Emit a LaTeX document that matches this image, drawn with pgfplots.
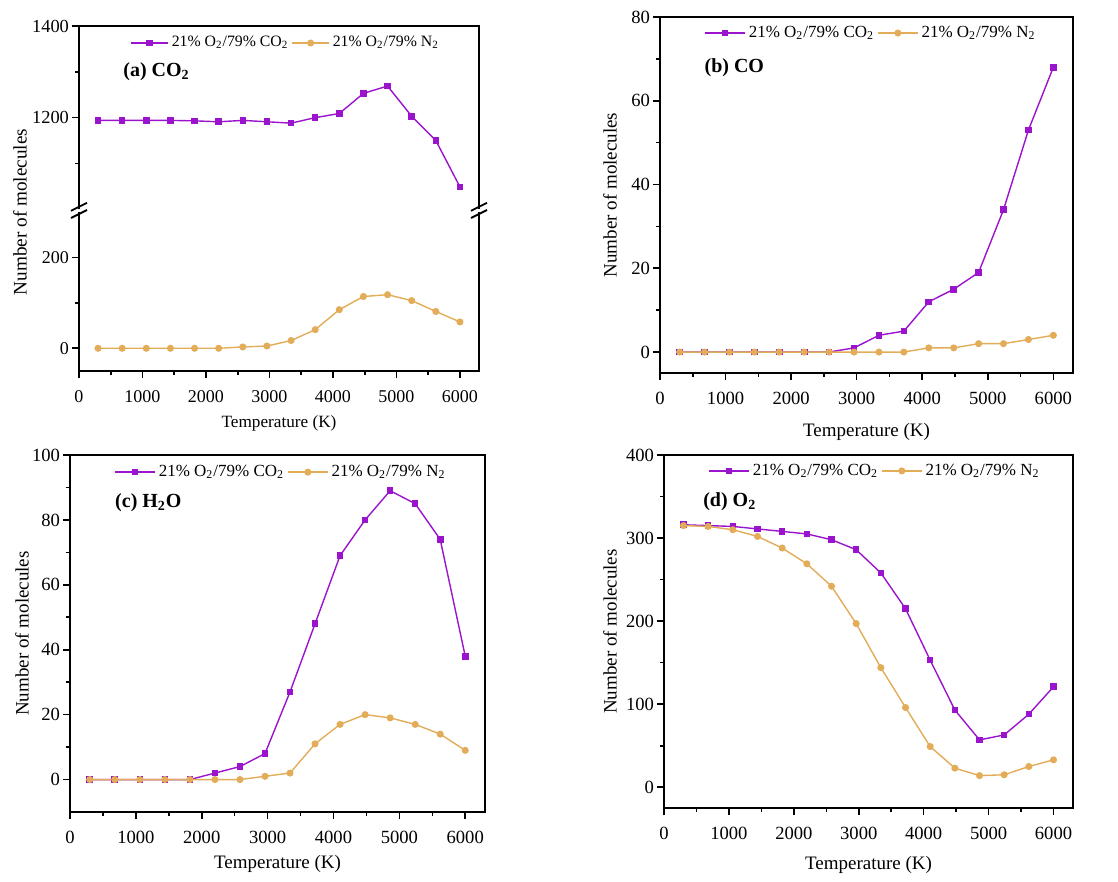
\documentclass[border=0pt]{standalone}
\usepackage{fontspec}
\setmainfont{Liberation Serif}
\usepackage{pgfplots}
\pgfplotsset{compat=1.18}

\definecolor{cpur}{RGB}{155,20,205}
\definecolor{corg}{RGB}{226,172,88}

\tikzset{tag/.style={anchor=west, inner sep=0pt, font=\fontsize{10}{12}\selectfont\bfseries}}

\pgfplotsset{
  panel/.style={
    scale only axis, anchor=north west, clip=false,
    xmin=0, xmax=6300,
    xtick={0,1000,...,6000}, minor xtick={500,1500,...,5500},
    tick align=outside, tick pos=left,
    axis line style={line width=1pt},
    major tick length=3.5pt, minor tick length=2pt,
    every tick/.style={black, line width=0.8pt},
    tick label style={font=\fontsize{9.3}{11}\selectfont},
    xticklabel style={yshift=-2.5pt},
    yticklabel style={xshift=2pt},
    label style={font=\fontsize{9.5}{11}\selectfont},
    /pgf/number format/assume math mode=true,
    /pgf/number format/1000 sep={},
    legend columns=2,
    legend style={draw=none, fill=none, inner sep=0pt, column sep=0pt,
      font=\fontsize{8.5}{10}\selectfont, anchor=west,
      nodes={inner xsep=1.5pt, inner ysep=1pt}},
    legend image code/.code={\draw[mark repeat=2,mark phase=2,##1]
      plot coordinates {(0pt,0pt) (10pt,0pt) (20pt,0pt)};},
  },
  pur/.style={color=cpur, line width=0.7pt, mark=square*, mark size=1.3pt, mark options={solid}},
  org/.style={color=corg, line width=0.7pt, mark=*, mark size=1.4pt, mark options={solid}},
}

\newcommand{\legA}{21\% O\textsubscript{2}/79\% CO\textsubscript{2}}
\newcommand{\legB}{21\% O\textsubscript{2}/79\% N\textsubscript{2}}
\newcommand{\ylab}[1]{\node[rotate=90, font=\fontsize{9.5}{11}\selectfont]
  at ([xshift=-#1]rel axis cs:0,0.5) {Number of molecules};}

\begin{document}
\begin{tikzpicture}
\path[use as bounding box] (0,0) rectangle (559pt,-441pt);

% ---------- (a) CO2, broken y axis: upper part ----------
\begin{axis}[panel, at={(39.5pt,-13pt)}, width=200pt, height=91.65pt,
  axis line style={draw=none},
  xtick=\empty, minor xtick={},
  ymin=1000, ymax=1400, ytick={1200,1400}, minor ytick={1100,1300},
  tick label style={font=\fontsize{9.2}{11}\selectfont},
  legend style={at={(rel axis cs:0.1275,0.907)}, font=\fontsize{7.9}{9.5}\selectfont},
  legend image code/.code={\draw[mark repeat=2,mark phase=2,#1]
      plot coordinates {(0pt,0pt) (9.25pt,0pt) (18.5pt,0pt)};}]
\draw[line width=1pt] (rel axis cs:0,0) -- (rel axis cs:0,1)
  -- (rel axis cs:1,1) -- (rel axis cs:1,0);
\addplot[pur] coordinates {
 (300,1194) (680,1194) (1060,1194) (1440,1194) (1820,1193) (2200,1191)
 (2580,1194) (2960,1191) (3340,1188) (3720,1200) (4100,1209) (4480,1253)
 (4860,1269) (5240,1203) (5620,1150) (6000,1049)};
\addlegendentry{\legA}
\addlegendimage{org}
\addlegendentry{\legB}
\node[tag] at (rel axis cs:0.11,0.749) {(a) CO\textsubscript{2}};
\end{axis}

% ---------- (a) CO2, lower part ----------
\begin{axis}[panel, at={(39.5pt,-106pt)}, width=200pt, height=79.5pt,
  axis line style={draw=none},
  ymin=-50, ymax=300, ytick={0,200}, minor ytick={100},
  tick label style={font=\fontsize{9}{11}\selectfont},
  xlabel={Temperature (K)}, xlabel style={font=\fontsize{8.6}{10}\selectfont}]
\draw[line width=1pt] (rel axis cs:0,1) -- (rel axis cs:0,0)
  -- (rel axis cs:1,0) -- (rel axis cs:1,1);
\addplot[org] coordinates {
 (300,0) (680,0) (1060,0) (1440,0) (1820,0) (2200,0)
 (2580,3) (2960,5) (3340,17) (3720,41) (4100,85) (4480,114)
 (4860,118) (5240,105) (5620,81) (6000,58)};
\end{axis}

% break marks on both spines of panel (a)
\foreach \bx in {39.5pt,239.5pt}{
  \draw[line width=0.9pt] ([xshift=\bx, yshift=-103.4pt]-4pt,-2pt) -- ++(8pt,4pt);
  \draw[line width=0.9pt] ([xshift=\bx, yshift=-107pt]-4pt,-2pt) -- ++(8pt,4pt);
}
\node[rotate=90, font=\fontsize{9.6}{11}\selectfont] at (10pt,-106pt) {Number of molecules};

% ---------- (b) CO ----------
\begin{axis}[panel, at={(330pt,-8.5pt)}, width=206.5pt, height=178pt,
  ymin=-5, ymax=80, ytick={0,20,...,80}, minor ytick={10,30,50,70},
  xlabel={Temperature (K)}, xlabel style={yshift=-2.5pt},
  legend style={at={(rel axis cs:0.1065,0.955)}}]
\addplot[pur] coordinates {
 (300,0) (680,0) (1060,0) (1440,0) (1820,0) (2200,0)
 (2580,0) (2960,1) (3340,4) (3720,5) (4100,12) (4480,15)
 (4860,19) (5240,34) (5620,53) (6000,68)};
\addlegendentry{\legA}
\addplot[org] coordinates {
 (300,0) (680,0) (1060,0) (1440,0) (1820,0) (2200,0)
 (2580,0) (2960,0) (3340,0) (3720,0) (4100,1) (4480,1)
 (4860,2) (5240,2) (5620,3) (6000,4)};
\addlegendentry{\legB}
\node[tag] at (rel axis cs:0.107,0.857) {(b) CO};
\ylab{25pt}
\end{axis}

% ---------- (c) H2O ----------
\begin{axis}[panel, at={(35pt,-227.5pt)}, width=207.5pt, height=178.5pt,
  ymin=-10, ymax=100, ytick={0,20,...,100}, minor ytick={10,30,50,70,90},
  xlabel={Temperature (K)}, xlabel style={yshift=1pt},
  legend style={at={(rel axis cs:0.106,0.952)}}]
\addplot[pur] coordinates {
 (300,0) (680,0) (1060,0) (1440,0) (1820,0) (2200,2)
 (2580,4) (2960,8) (3340,27) (3720,48) (4100,69) (4480,80)
 (4860,89) (5240,85) (5620,74) (6000,38)};
\addlegendentry{\legA}
\addplot[org] coordinates {
 (300,0) (680,0) (1060,0) (1440,0) (1820,0) (2200,0)
 (2580,0) (2960,1) (3340,2) (3720,11) (4100,17) (4480,20)
 (4860,19) (5240,17) (5620,14) (6000,9)};
\addlegendentry{\legB}
\node[tag] at (rel axis cs:0.108,0.866) {(c) H\textsubscript{2}O};
\ylab{24pt}
\end{axis}

% ---------- (d) O2 ----------
\begin{axis}[panel, at={(332pt,-227.5pt)}, width=204.5pt, height=176.5pt,
  ymin=-25, ymax=400, ytick={0,100,...,400}, minor ytick={50,150,250,350},
  xlabel={Temperature (K)}, xlabel style={yshift=-1.5pt},
  legend style={at={(rel axis cs:0.1076,0.955)}}]
\addplot[pur] coordinates {
 (300,316) (680,315) (1060,314) (1440,311) (1820,308) (2200,305)
 (2580,298) (2960,286) (3340,258) (3720,215) (4100,153) (4480,93)
 (4860,57) (5240,63) (5620,88) (6000,121)};
\addlegendentry{\legA}
\addplot[org] coordinates {
 (300,315) (680,314) (1060,310) (1440,302) (1820,288) (2200,269)
 (2580,242) (2960,197) (3340,144) (3720,96) (4100,49) (4480,23)
 (4860,14) (5240,15) (5620,25) (6000,33)};
\addlegendentry{\legB}
\node[tag] at (rel axis cs:0.095,0.867) {(d) O\textsubscript{2}};
\ylab{27pt}
\end{axis}
\end{tikzpicture}
\end{document}
